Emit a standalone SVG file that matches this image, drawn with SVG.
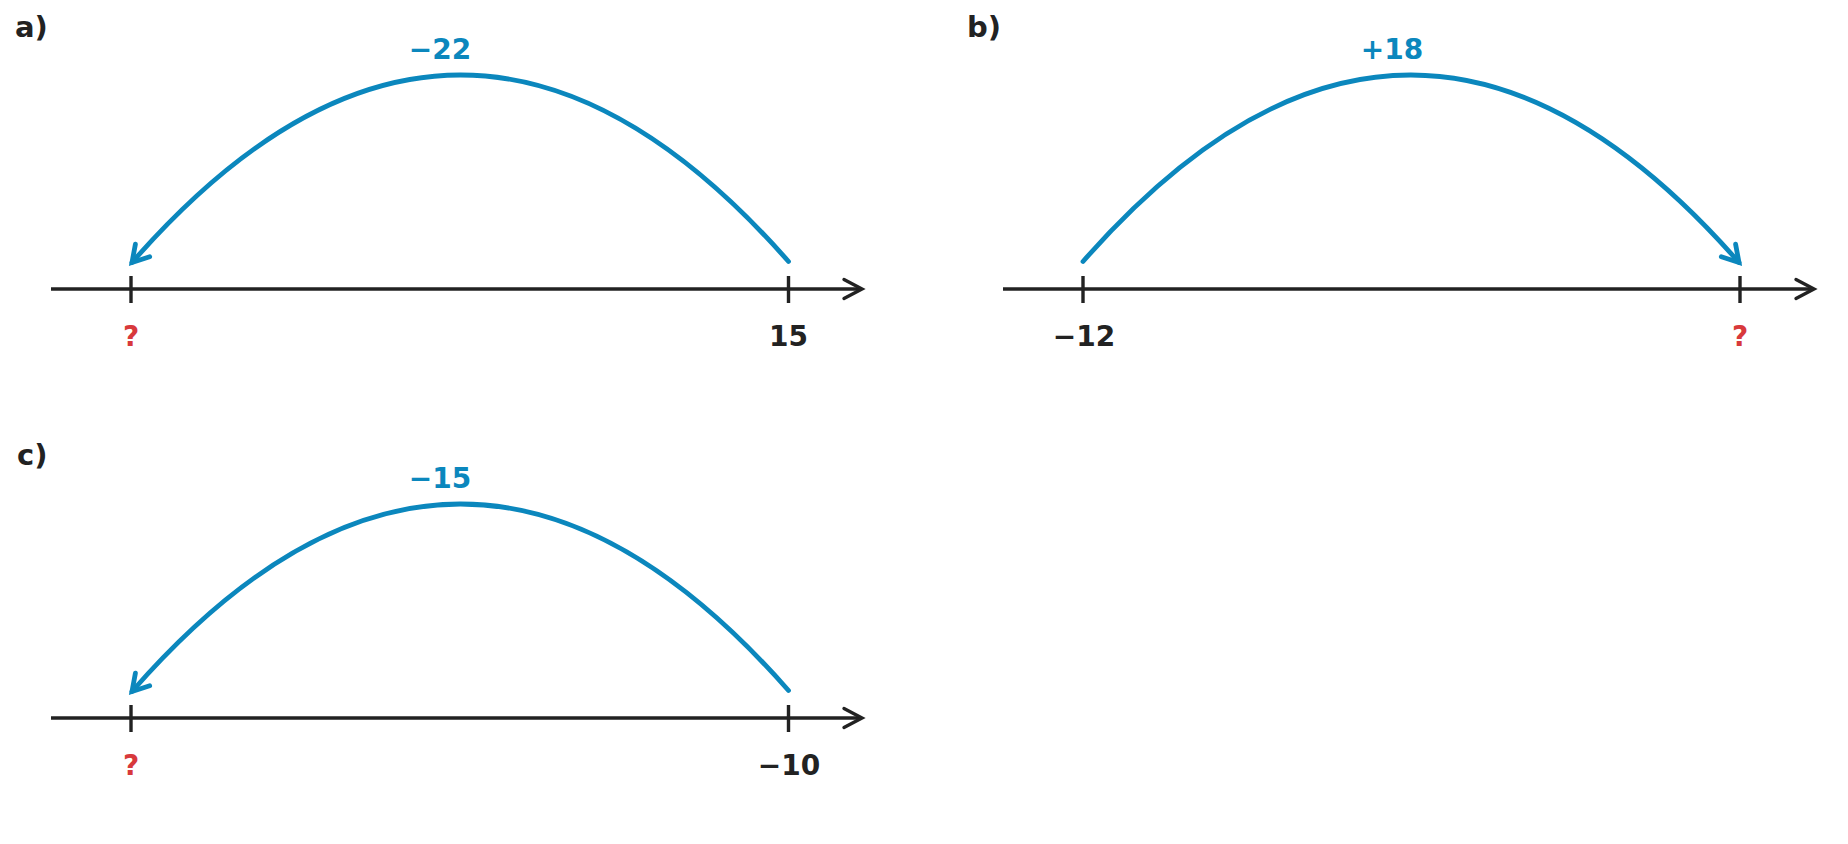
<svg xmlns="http://www.w3.org/2000/svg" width="1848" height="844" viewBox="0 0 1848 844">
<style>
.axis{stroke:#222;stroke-width:3.4;fill:none;stroke-linecap:butt}
.jump{stroke:#0b87bd;stroke-width:4.8;fill:none;stroke-linecap:round}
.t{font-family:"DejaVu Sans",sans-serif;font-weight:bold;font-size:28px}
.lbl{fill:#222;font-size:29px}
.num{fill:#222;text-anchor:middle}
.q{fill:#d8393c;text-anchor:middle}
.op{fill:#0b87bd;text-anchor:middle}
</style>
<defs>
<marker id="axArrow" markerUnits="userSpaceOnUse" viewBox="-22 -12 26 24" markerWidth="26" markerHeight="24" refX="0" refY="0" orient="auto">
<path d="M-18,-9.5 L0,0 L-18,9.5" fill="none" stroke="#222" stroke-width="3.4" stroke-linecap="round" stroke-linejoin="miter"/>
</marker>
<marker id="jArrow" markerUnits="userSpaceOnUse" viewBox="-21 -13 26 26" markerWidth="26" markerHeight="26" refX="0" refY="0" orient="auto">
<path d="M-16,-9.5 L0,0 L-16,9.5" fill="none" stroke="#0b87bd" stroke-width="4.8" stroke-linecap="round" stroke-linejoin="miter"/>
</marker>
</defs>
<rect width="1848" height="844" fill="#fff"/>

<g id="panel-a">
<text class="t lbl" x="15" y="37">a)</text>
<line class="axis" x1="51" y1="289" x2="862" y2="289" marker-end="url(#axArrow)"/>
<line class="axis" x1="131" y1="276" x2="131" y2="303"/>
<line class="axis" x1="788.5" y1="276" x2="788.5" y2="303"/>
<text class="t q" x="131" y="346">?</text>
<text class="t num" x="788.5" y="346">15</text>
<text class="t op" x="440" y="59">−22</text>
</g>

<g id="panel-b">
<text class="t lbl" x="967" y="37">b)</text>
<line class="axis" x1="1003" y1="289" x2="1814" y2="289" marker-end="url(#axArrow)"/>
<line class="axis" x1="1083" y1="276" x2="1083" y2="303"/>
<line class="axis" x1="1740" y1="276" x2="1740" y2="303"/>
<text class="t num" x="1084" y="346">−12</text>
<text class="t q" x="1740" y="346">?</text>
<text class="t op" x="1392" y="59">+18</text>
</g>

<g id="panel-c">
<text class="t lbl" x="17" y="465">c)</text>
<line class="axis" x1="51" y1="718" x2="862" y2="718" marker-end="url(#axArrow)"/>
<line class="axis" x1="131" y1="705" x2="131" y2="732"/>
<line class="axis" x1="788.5" y1="705" x2="788.5" y2="732"/>
<text class="t q" x="131" y="775">?</text>
<text class="t num" x="789" y="775">−10</text>
<text class="t op" x="440" y="488">−15</text>
</g>

<g id="connectors">
<path class="jump" d="M788.5,261.5 Q460,-112 132,262.5" marker-end="url(#jArrow)"/>
<path class="jump" d="M1083,261.5 Q1411,-112 1739,262.5" marker-end="url(#jArrow)"/>
<path class="jump" d="M788.5,690.5 Q460,317 132,691.5" marker-end="url(#jArrow)"/>
</g>
</svg>
